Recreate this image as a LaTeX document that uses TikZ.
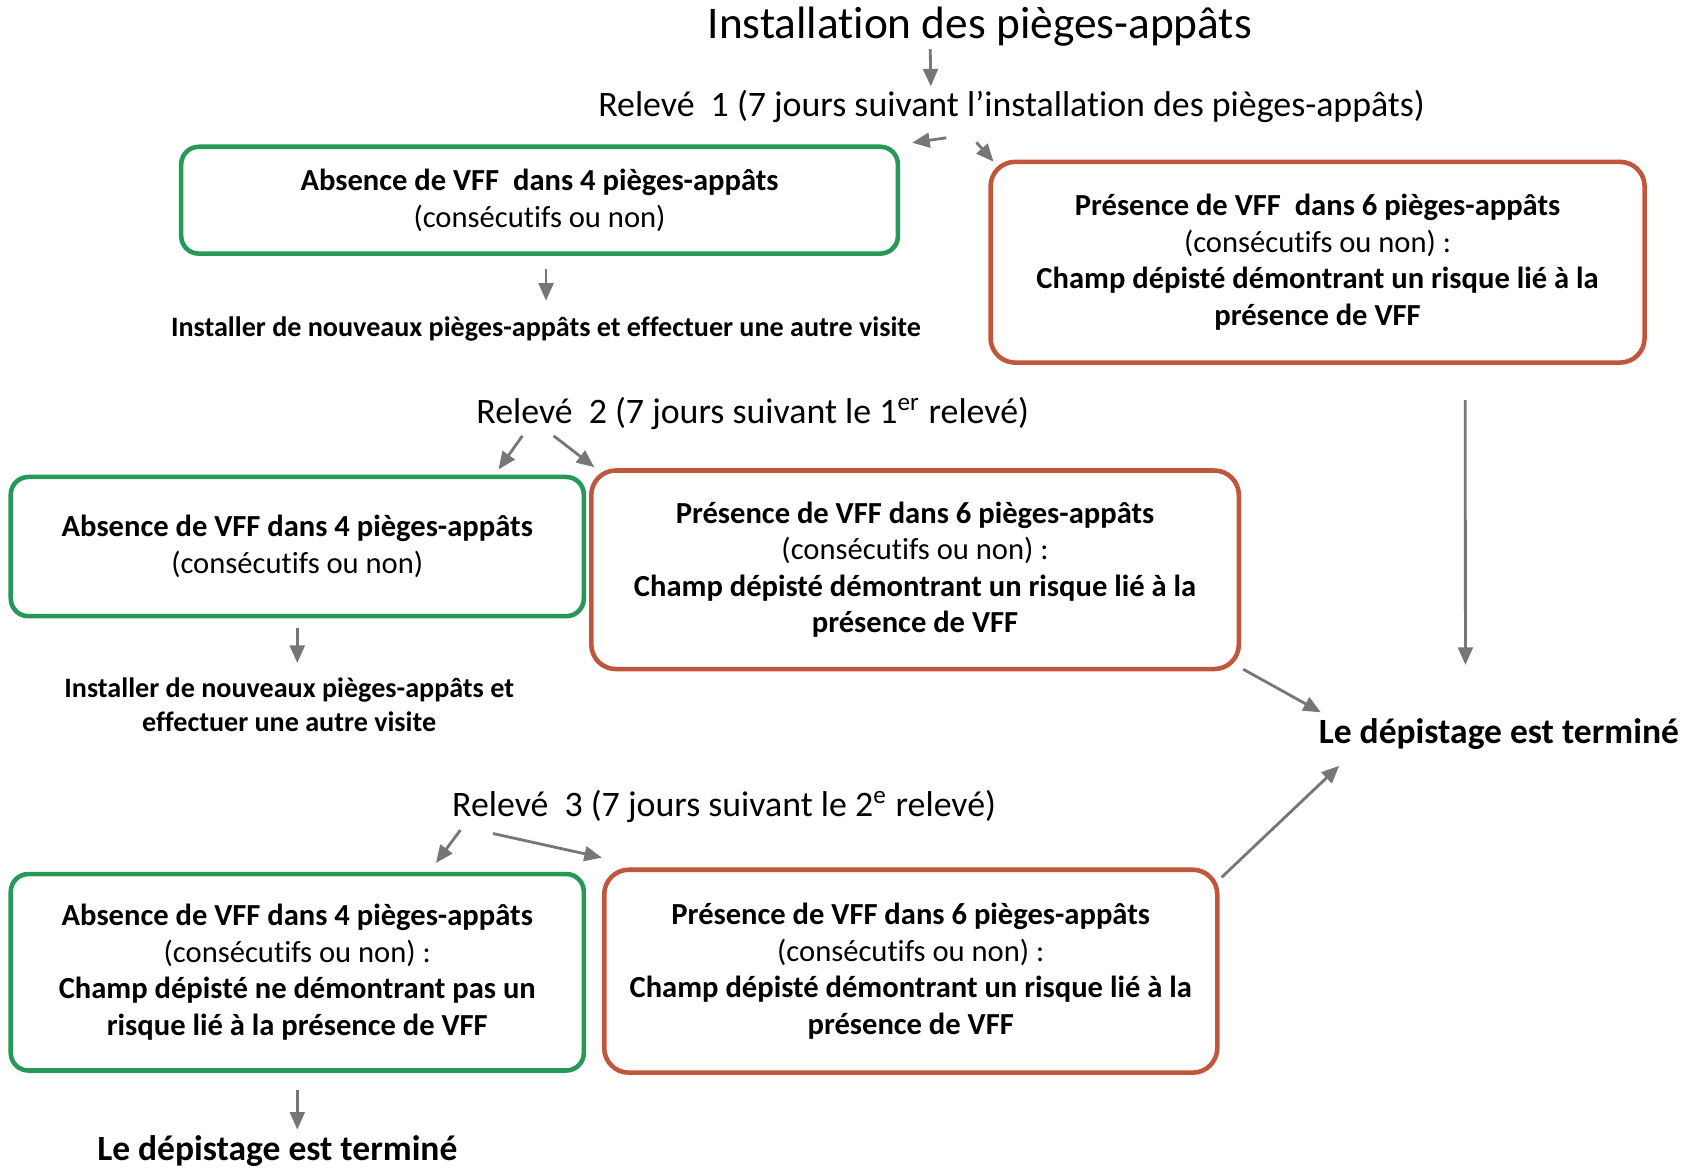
\documentclass[tikz,border=0pt]{standalone}
\usepackage{fontspec}
\setmainfont[Ligatures=NoCommon]{Carlito}
\usetikzlibrary{shapes,arrows.meta,backgrounds}

\definecolor{vert}{RGB}{38,152,88}
\definecolor{brique}{RGB}{192,86,58}
\definecolor{fleche}{RGB}{118,118,118}

\begin{document}
\begin{tikzpicture}[x=0.01079cm,y=-0.01079cm,
    absent/.style={rectangle,rounded corners=5pt,draw=vert,line width=1.3pt,align=center,
      font=\fontsize{8.7}{10.4}\selectfont},
    present/.style={rectangle,rounded corners=7pt,draw=brique,line width=1.3pt,align=center,
      font=\fontsize{8.7}{10.4}\selectfont},
    releve/.style={inner sep=1pt,font=\fontsize{10.2}{12}\selectfont},
    consigne/.style={inner sep=1pt,align=center,font=\bfseries\fontsize{8}{9.6}\selectfont},
    fin/.style={inner sep=1pt,font=\bfseries\fontsize{10.1}{12}\selectfont},
    fl/.style={-{Triangle[length=5pt,width=4.2pt]},draw=fleche,line width=0.8pt}]
  \useasboundingbox (0,0) rectangle (1568,1084);

  \node[inner sep=1pt,font=\fontsize{12.9}{15}\selectfont] at (908,25) (titre) {Installation des pièges-appâts};
  \node[releve] at (937.5,99) (r1) {Relevé\hspace{0.45em}1 (7 jours suivant l’installation des pièges-appâts)};

  % releve 1
  \node[absent,minimum width=7.165cm,minimum height=1.068cm] at (500,185.5) (g1)
    {\textbf{Absence de VFF\ \ dans 4 pièges-appâts}\\(consécutifs ou non)};
  \node[present,minimum width=6.539cm,minimum height=2.007cm] at (1221,243) (p1)
    {\textbf{Présence de VFF\ \ dans 6 pièges-appâts}\\(consécutifs ou non) :\\
     \textbf{Champ dépisté démontrant un risque lié à la}\\\textbf{présence de VFF}};
  \node[consigne] at (506,305) (ins1) {Installer de nouveaux pièges-appâts et effectuer une autre visite};

  % releve 2
  \node[releve] at (697.5,383) (r2) {Relevé\hspace{0.45em}2 (7 jours suivant le 1\textsuperscript{er} relevé)};
  \node[absent,minimum width=5.729cm,minimum height=1.392cm] at (275.5,506.5) (g2)
    {\textbf{Absence de VFF dans 4 pièges-appâts}\\(consécutifs ou non)};
  \node[present,minimum width=6.474cm,minimum height=1.985cm] at (848,528) (p2)
    {\textbf{Présence de VFF dans 6 pièges-appâts}\\(consécutifs ou non) :\\
     \textbf{Champ dépisté démontrant un risque lié à la}\\\textbf{présence de VFF}};
  \node[consigne] at (268,653) (ins2) {Installer de nouveaux pièges-appâts et\\effectuer une autre visite};
  \node[fin] at (1389,680) (fin1) {Le dépistage est terminé};

  % releve 3
  \node[releve] at (671,747) (r3) {Relevé\hspace{0.45em}3 (7 jours suivant le 2\textsuperscript{e} relevé)};
  \node[absent,minimum width=5.729cm,minimum height=1.964cm] at (275.5,901) (g3)
    {\textbf{Absence de VFF dans 4 pièges-appâts}\\(consécutifs ou non) :\\
     \textbf{Champ dépisté ne démontrant pas un}\\\textbf{risque lié à la présence de VFF}};
  \node[present,minimum width=6.129cm,minimum height=2.029cm] at (844,900) (p3)
    {\textbf{Présence de VFF dans 6 pièges-appâts}\\(consécutifs ou non) :\\
     \textbf{Champ dépisté démontrant un risque lié à la}\\\textbf{présence de VFF}};
  \node[fin] at (257,1067) (fin2) {Le dépistage est terminé};

  \draw[fl] ([xshift=-14.1pt,yshift=0.5pt]titre.south) -- ([xshift=-23pt,yshift=0pt]r1.north);
  \draw[fl] ([xshift=-18.6pt,yshift=-3pt]r1.south) -- ([xshift=3.4pt,yshift=0.5pt]g1.north east);
  \draw[fl] ([xshift=-10pt,yshift=-4.3pt]r1.south) -- ([xshift=1.5pt,yshift=-0.6pt]p1.north west);
  \draw[fl,shorten <=3.7pt,shorten >=3.4pt] (g1.south -| ins1.north) -- (ins1.north);
  \draw[fl,shorten <=10pt,shorten >=14pt] ([xshift=42pt]p1.south) -- ([xshift=-9.5pt]fin1.north);

  \draw[fl] ([xshift=-65.5pt,yshift=-0.6pt]r2.south) -- ([xshift=-24.9pt,yshift=1.5pt]g2.north east);
  \draw[fl] ([xshift=-56.6pt,yshift=-0.6pt]r2.south) -- ([xshift=1.5pt,yshift=0.3pt]p2.north west);
  \draw[fl,shorten <=2.8pt,shorten >=3pt] (g2.south) -- (g2.south |- ins2.north);
  \draw[fl] ([xshift=0.6pt,yshift=0.6pt]p2.south east) -- ([xshift=1.8pt,yshift=0.5pt]fin1.north west);
%  \draw[fl] (p2) to (fin1);

  \draw[fl] ([xshift=-75pt,yshift=-1pt]r3.south) -- ([xshift=-42.7pt,yshift=2.5pt]g3.north east);
  \draw[fl] ([xshift=-65.7pt,yshift=-2pt]r3.south) -- ([yshift=2.8pt]p3.north west);
  \draw[fl] ([xshift=0.6pt,yshift=-2.8pt]p3.north east) -- ([xshift=7pt,yshift=-3.5pt]fin1.south west);
  \draw[fl,shorten <=4.9pt,shorten >=0.6pt] (g3.south) -- (g3.south |- fin2.north);
\end{tikzpicture}
\end{document}
